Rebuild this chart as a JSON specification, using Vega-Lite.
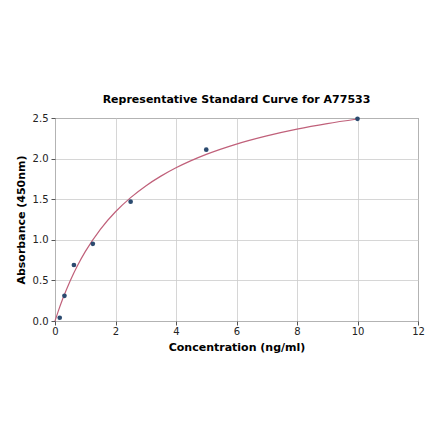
{
  "$schema": "https://vega.github.io/schema/vega-lite/v6.json",
  "width": 363,
  "height": 203,
  "autosize": {"type": "none"},
  "padding": {"left": 55, "top": 118, "right": 22, "bottom": 120},
  "background": "white",
  "title": {
    "text": "Representative Standard Curve for A77533",
    "font": "DejaVu Sans",
    "fontSize": 11,
    "fontWeight": "bold",
    "color": "black",
    "anchor": "middle",
    "offset": 8
  },
  "datasets": {
    "points": [
      {"conc": 0.156, "od": 0.04},
      {"conc": 0.3125, "od": 0.31},
      {"conc": 0.625, "od": 0.69},
      {"conc": 1.25, "od": 0.95},
      {"conc": 2.5, "od": 1.47},
      {"conc": 5, "od": 2.11},
      {"conc": 10, "od": 2.49}
    ],
    "curve": [
      {"conc": 0, "od": 0},
      {"conc": 0.1, "od": 0.113},
      {"conc": 0.25, "od": 0.268},
      {"conc": 0.5, "od": 0.494},
      {"conc": 0.75, "od": 0.687},
      {"conc": 1, "od": 0.854},
      {"conc": 1.5, "od": 1.129},
      {"conc": 2, "od": 1.345},
      {"conc": 2.5, "od": 1.519},
      {"conc": 3, "od": 1.663},
      {"conc": 3.5, "od": 1.784},
      {"conc": 4, "od": 1.887},
      {"conc": 4.5, "od": 1.975},
      {"conc": 5, "od": 2.052},
      {"conc": 6, "od": 2.179},
      {"conc": 7, "od": 2.28},
      {"conc": 8, "od": 2.363},
      {"conc": 9, "od": 2.431},
      {"conc": 10, "od": 2.488}
    ]
  },
  "encoding": {
    "x": {
      "field": "conc",
      "type": "quantitative",
      "scale": {"domain": [0, 12], "nice": false, "zero": false},
      "axis": {
        "title": "Concentration (ng/ml)",
        "values": [0, 2, 4, 6, 8, 10, 12],
        "format": "d",
        "labelPadding": 1,
        "titlePadding": 5
      }
    },
    "y": {
      "field": "od",
      "type": "quantitative",
      "scale": {"domain": [0, 2.5], "nice": false},
      "axis": {
        "title": "Absorbance (450nm)",
        "values": [0, 0.5, 1, 1.5, 2, 2.5],
        "format": ".1f",
        "titlePadding": 6
      }
    }
  },
  "layer": [
    {
      "data": {"name": "curve"},
      "mark": {"type": "line", "color": "#c0607a", "strokeWidth": 1.2, "interpolate": "monotone"}
    },
    {
      "data": {"name": "points"},
      "mark": {"type": "circle", "color": "#2b4a6f", "opacity": 1, "size": 22}
    }
  ],
  "config": {
    "font": "DejaVu Sans",
    "view": {"stroke": "#555555", "strokeWidth": 1},
    "axis": {
      "labelFont": "DejaVu Sans",
      "labelFontSize": 10,
      "labelColor": "#222222",
      "labelFlush": false,
      "titleFont": "DejaVu Sans",
      "titleFontSize": 11,
      "titleFontWeight": "bold",
      "titleColor": "black",
      "gridColor": "#cccccc",
      "gridWidth": 0.8,
      "tickColor": "#555555",
      "tickSize": 4,
      "domain": false,
      "labelPadding": 3
    }
  }
}
